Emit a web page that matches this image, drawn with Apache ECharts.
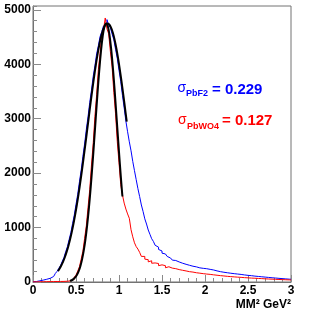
<!DOCTYPE html>
<html><head><meta charset="utf-8">
<script src="https://cdn.jsdelivr.net/npm/echarts@6/dist/echarts.min.js"></script>
<style>html,body{margin:0;padding:0;background:#fff}#c{width:324px;height:314px}</style>
</head><body><div id="c"></div>
<script>
// Histogram range (150 bins of 0.02 GeV^2)
const histRange = [0, 3];

// PbF2 histogram (blue), bin contents
const pbf2Counts = [
  4, 9, 15, 22, 28, 35, 41, 50, 57, 68,
  82, 101, 128, 158, 196, 252, 300, 380, 450, 556,
  648, 780, 905, 1072, 1228, 1425, 1612, 1840, 2052, 2305,
  2535, 2800, 3035, 3300, 3525, 3775, 3970, 4190, 4340, 4510,
  4600, 4705, 4730, 4820, 4715, 4670, 4555, 4450, 4275, 4110,
  3890, 3685, 3430, 3200, 2955, 2760, 2575, 2410, 2215, 2045,
  1880, 1715, 1570, 1415, 1295, 1160, 1065, 955, 875, 795,
  745, 675, 640, 598, 570, 530, 515, 485, 470, 440,
  428, 402, 395, 376, 368, 349, 345, 328, 325, 309,
  307, 293, 290, 277, 278, 265, 260, 257, 251, 245,
  244, 231, 232, 219, 221, 207, 204, 195, 190, 185,
  179, 175, 170, 166, 161, 158, 153, 150, 146, 141,
  139, 133, 130, 126, 122, 118, 116, 110, 108, 104,
  102, 98, 96, 92, 90, 86, 84, 80, 78, 75,
  73, 70, 67, 64, 62, 59, 57, 55, 52, 50
];

// PbWO4 histogram (red), bin contents
const pbwo4Counts = [
  2, 3, 2, 4, 3, 5, 4, 6, 5, 7,
  6, 8, 7, 9, 8, 10, 9, 11, 12, 14,
  16, 22, 35, 50, 88, 125, 200, 280, 420, 565,
  800, 1030, 1370, 1700, 2150, 2540, 3040, 3440, 3900, 4200,
  4560, 4640, 4850, 4650, 4560, 4230, 3950, 3480, 3090, 2580,
  2190, 1790, 1600, 1450, 1340, 1250, 1170, 960, 830, 720,
  650, 605, 545, 470, 470, 420, 410, 370, 390, 345,
  350, 320, 340, 300, 315, 285, 300, 262, 280, 248,
  255, 232, 245, 218, 228, 205, 215, 196, 203, 186,
  190, 176, 182, 168, 170, 158, 162, 150, 153, 144,
  146, 137, 140, 130, 132, 122, 124, 114, 117, 108,
  111, 103, 104, 98, 99, 93, 94, 88, 89, 83,
  85, 79, 80, 75, 76, 71, 72, 67, 69, 64,
  65, 60, 62, 57, 58, 54, 55, 51, 52, 48,
  49, 45, 46, 43, 44, 41, 41, 39, 39, 37
];

// Gaussian fit curve for PbF2 (sigma = 0.229)
const fitPbF2X = [0.29, 0.31, 0.33, 0.35, 0.37, 0.39, 0.41, 0.43, 0.45, 0.47,
  0.49, 0.51, 0.53, 0.55, 0.57, 0.59, 0.61, 0.63, 0.65, 0.67,
  0.69, 0.71, 0.73, 0.75, 0.77, 0.79, 0.81, 0.83, 0.85, 0.87,
  0.89, 0.91, 0.93, 0.95, 0.97, 0.99, 1.01, 1.03, 1.05, 1.07, 1.09];
const fitPbF2Y = [201, 249, 307, 375, 455, 548, 654, 775, 912, 1065,
  1234, 1419, 1619, 1833, 2061, 2298, 2543, 2793, 3044, 3294,
  3535, 3766, 3982, 4178, 4350, 4495, 4610, 4692, 4738, 4750,
  4724, 4663, 4568, 4441, 4285, 4102, 3898, 3676, 3439, 3194, 2944];

// Gaussian fit curve for PbWO4 (sigma = 0.127)
const fitPbWO4X = [0.43, 0.45, 0.47, 0.49, 0.51, 0.53, 0.55, 0.57, 0.59, 0.61,
  0.63, 0.65, 0.67, 0.69, 0.71, 0.73, 0.75, 0.77, 0.79, 0.81,
  0.83, 0.85, 0.87, 0.89, 0.91, 0.93, 0.95, 0.97, 0.99, 1.01, 1.03, 1.04];
const fitPbWO4Y = [20, 32, 53, 84, 129, 195, 286, 411, 575, 785,
  1045, 1358, 1720, 2127, 2564, 3017, 3462, 3876, 4233, 4509,
  4685, 4750, 4697, 4531, 4264, 3914, 3506, 3062, 2610, 2169, 1759, 1570];

// Axis ticks
const xTickValues = [0, 0.5, 1, 1.5, 2, 2.5, 3];
const yTickValues = [0, 1000, 2000, 3000, 4000, 5000];
const yAxisMax = 5070;

const labelPbF2 = { name: 'PbF2', value: '0.229' };
const labelPbWO4 = { name: 'PbWO4', value: '0.127' };
const xTitle = 'MM\u00B2 GeV\u00B2';

function histPoints(counts) {
  const n = counts.length;
  const w = (histRange[1] - histRange[0]) / n;
  const pts = counts.map((c, i) => [histRange[0] + i * w, c]);
  pts.push([histRange[1], counts[n - 1]]);
  return pts;
}
function zipXY(xs, ys) { return xs.map((x, i) => [x, ys[i]]); }

const FF = '"Liberation Sans", Arial, Helvetica, sans-serif';
const tickColor = '#8a8a8a';
const frameColor = '#737373';

const chart = echarts.init(document.getElementById('c'), null, { renderer: 'canvas' });
chart.setOption({
  animation: false,
  backgroundColor: '#fff',
  grid: { left: 33, right: 33, top: 6, bottom: 32, show: true, borderColor: frameColor, borderWidth: 1, backgroundColor: 'transparent' },
  xAxis: [{
    type: 'value', min: xTickValues[0], max: xTickValues[xTickValues.length - 1], interval: 0.5,
    axisLine: { show: true, onZero: false, lineStyle: { color: frameColor, width: 1 } },
    axisTick: { show: true, inside: true, length: 7, lineStyle: { color: tickColor, width: 1 } },
    minorTick: { show: true, splitNumber: 5, length: 4, lineStyle: { color: tickColor, width: 1 } },
    splitLine: { show: false },
    axisLabel: { color: '#000', fontWeight: 'bold', fontSize: 12, fontFamily: FF, margin: 3,
      formatter: v => String(v) }
  }],
  yAxis: [{
    type: 'value', min: 0, max: yAxisMax, interval: 1000,
    axisLine: { show: true, onZero: false, lineStyle: { color: frameColor, width: 1 } },
    axisTick: { show: true, inside: true, length: 8, lineStyle: { color: tickColor, width: 1 } },
    splitLine: { show: false },
    axisLabel: { color: '#000', fontWeight: 'bold', fontSize: 12, fontFamily: FF, margin: 2,
      showMaxLabel: false,
      formatter: v => (yTickValues.indexOf(v) >= 0 ? String(v) : '') }
  }, {
    type: 'value', min: 0, max: yAxisMax, interval: 200, position: 'left',
    axisLine: { show: false },
    axisTick: { show: true, inside: true, length: 4, lineStyle: { color: tickColor, width: 1 } },
    splitLine: { show: false },
    axisLabel: { show: false }
  }],
  series: [
    { name: 'PbF2', type: 'line', step: 'end', data: histPoints(pbf2Counts), showSymbol: false, symbol: 'none',
      lineStyle: { color: '#0000ff', width: 1 }, itemStyle: { color: '#0000ff' }, clip: true, z: 2 },
    { name: 'PbWO4', type: 'line', step: 'end', data: histPoints(pbwo4Counts), showSymbol: false, symbol: 'none',
      lineStyle: { color: '#ff0000', width: 1 }, itemStyle: { color: '#ff0000' }, clip: true, z: 3 },
    { name: 'fitPbF2', type: 'line', smooth: 0.4, data: zipXY(fitPbF2X, fitPbF2Y), showSymbol: false, symbol: 'none',
      lineStyle: { color: '#000', width: 2 }, itemStyle: { color: '#000' }, z: 4 },
    { name: 'fitPbWO4', type: 'line', smooth: 0.4, data: zipXY(fitPbWO4X, fitPbWO4Y), showSymbol: false, symbol: 'none',
      lineStyle: { color: '#000', width: 2 }, itemStyle: { color: '#000' }, z: 4 }
  ],
  graphic: [
    { type: 'text', z: 10, style: { x: 177.5, y: 88.5, text: '\u03C3', font: 'normal 14px ' + FF, fill: '#0000ff', align: 'left', verticalAlign: 'middle', textAlign: 'left', textVerticalAlign: 'middle' } },
    { type: 'text', z: 10, style: { x: 186, y: 94, text: labelPbF2.name, font: 'bold 9px ' + FF, fill: '#0000ff', align: 'left', verticalAlign: 'middle', textAlign: 'left', textVerticalAlign: 'middle' } },
    { type: 'text', z: 10, style: { x: 212, y: 89.5, text: '= ' + labelPbF2.value, font: 'bold 15px ' + FF, fill: '#0000ff', align: 'left', verticalAlign: 'middle', textAlign: 'left', textVerticalAlign: 'middle' } },
    { type: 'text', z: 10, style: { x: 178, y: 120.2, text: '\u03C3', font: 'normal 14px ' + FF, fill: '#ff0000', align: 'left', verticalAlign: 'middle', textAlign: 'left', textVerticalAlign: 'middle' } },
    { type: 'text', z: 10, style: { x: 187, y: 127, text: labelPbWO4.name, font: 'bold 9px ' + FF, fill: '#ff0000', align: 'left', verticalAlign: 'middle', textAlign: 'left', textVerticalAlign: 'middle' } },
    { type: 'text', z: 10, style: { x: 222, y: 121, text: '= ' + labelPbWO4.value, font: 'bold 15px ' + FF, fill: '#ff0000', align: 'left', verticalAlign: 'middle', textAlign: 'left', textVerticalAlign: 'middle' } },
    { type: 'text', z: 10, style: { x: 291, y: 305, text: xTitle, font: 'bold 12px ' + FF, fill: '#000', align: 'right', verticalAlign: 'middle', textAlign: 'right', textVerticalAlign: 'middle' } }
  ]
});
</script>
</body></html>
